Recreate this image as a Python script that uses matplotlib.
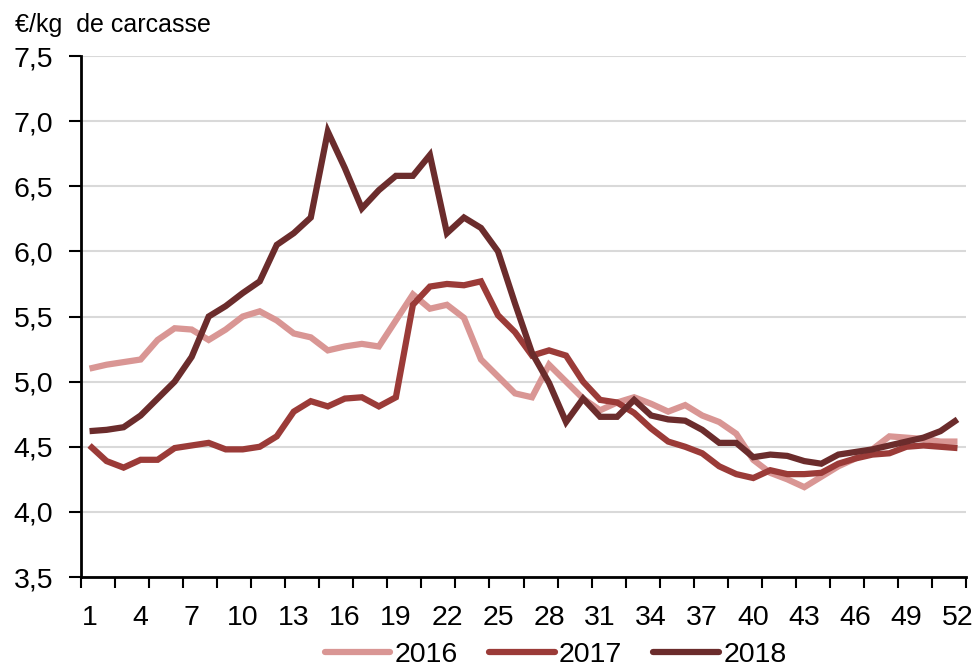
import numpy as np
import matplotlib
matplotlib.use('Agg')
import matplotlib.pyplot as plt
from matplotlib.ticker import FuncFormatter

plt.rcParams['font.family'] = ['Liberation Sans', 'DejaVu Sans']

weeks = list(range(1, 53))

# prix hebdomadaires, EUR/kg de carcasse
prix_2016 = [5.10, 5.13, 5.15, 5.17, 5.32, 5.41, 5.40, 5.32, 5.40, 5.50,
             5.54, 5.47, 5.37, 5.34, 5.24, 5.27, 5.29, 5.27, 5.47, 5.67,
             5.56, 5.59, 5.49, 5.17, 5.04, 4.91, 4.88, 5.13, 5.00, 4.87,
             4.78, 4.84, 4.88, 4.83, 4.77, 4.82, 4.74, 4.69, 4.60, 4.40,
             4.30, 4.25, 4.19, 4.27, 4.35, 4.41, 4.48, 4.58, 4.57, 4.56,
             4.54, 4.54]
prix_2017 = [4.51, 4.39, 4.34, 4.40, 4.40, 4.49, 4.51, 4.53, 4.48, 4.48,
             4.50, 4.58, 4.77, 4.85, 4.81, 4.87, 4.88, 4.81, 4.88, 5.59,
             5.73, 5.75, 5.74, 5.77, 5.51, 5.38, 5.20, 5.24, 5.20, 5.00,
             4.86, 4.84, 4.76, 4.64, 4.54, 4.50, 4.45, 4.35, 4.29, 4.26,
             4.32, 4.29, 4.29, 4.30, 4.37, 4.41, 4.44, 4.45, 4.50, 4.51,
             4.50, 4.49]
prix_2018 = [4.62, 4.63, 4.65, 4.74, 4.87, 5.00, 5.19, 5.50, 5.58, 5.68,
             5.77, 6.05, 6.14, 6.26, 6.92, 6.64, 6.33, 6.47, 6.58, 6.58,
             6.74, 6.14, 6.26, 6.18, 6.00, 5.60, 5.22, 4.99, 4.69, 4.87,
             4.73, 4.73, 4.86, 4.74, 4.71, 4.70, 4.63, 4.53, 4.53, 4.42,
             4.44, 4.43, 4.39, 4.37, 4.44, 4.46, 4.48, 4.51, 4.54, 4.57,
             4.62, 4.71]

series = [('2016', prix_2016, '#D99694'),
          ('2017', prix_2017, '#9B3B38'),
          ('2018', prix_2018, '#6B2C2C')]

fs = 20.5

fig = plt.figure(figsize=(9.8, 6.66), dpi=100)
ax = fig.add_axes([0.0827, 0.1336, 0.9030, 0.7823])

for name, vals, col in series:
    ax.plot(weeks, vals, color=col, lw=4.5, label=name,
            solid_joinstyle='miter', solid_capstyle='butt')

ax.set_xlim(0.5, 52.5)
ax.set_ylim(3.5, 7.5)
ax.set_yticks(np.arange(3.5, 7.51, 0.5))
ax.yaxis.set_major_formatter(FuncFormatter(lambda v, p: f'{v:.1f}'.replace('.', ',')))

# graduations entre les categories, etiquettes toutes les 3 semaines
ax.set_xticks(np.arange(0.5, 52.6, 2))
ax.set_xticklabels([])
ax.set_xticks(weeks[::3], minor=True)
ax.set_xticklabels([str(w) for w in weeks[::3]], minor=True)
ax.tick_params(axis='x', which='major', length=8, width=1.5, direction='out')
ax.tick_params(axis='x', which='minor', length=0, pad=20, labelsize=fs)
ax.tick_params(axis='y', length=9, width=1.5, direction='out', labelsize=fs, pad=11)

ax.grid(axis='y', color='#d9d9d9', lw=1.5)
ax.set_axisbelow(True)
for s in ['top', 'right']:
    ax.spines[s].set_visible(False)
for s in ['left', 'bottom']:
    ax.spines[s].set_linewidth(2)
    ax.spines[s].set_zorder(5)

fig.text(0.015, 0.962, '€/kg  de carcasse', fontsize=18, va='center', ha='left')

leg = ax.legend(loc='center', bbox_to_anchor=(0.567, 0.017), bbox_transform=fig.transFigure,
                ncol=3, frameon=False, fontsize=fs, handlelength=2.3, handletextpad=0.15,
                columnspacing=1.1, borderaxespad=0, borderpad=0)
for h in leg.get_lines():
    h.set_solid_capstyle('round')

fig.savefig('out.png', dpi=100)
